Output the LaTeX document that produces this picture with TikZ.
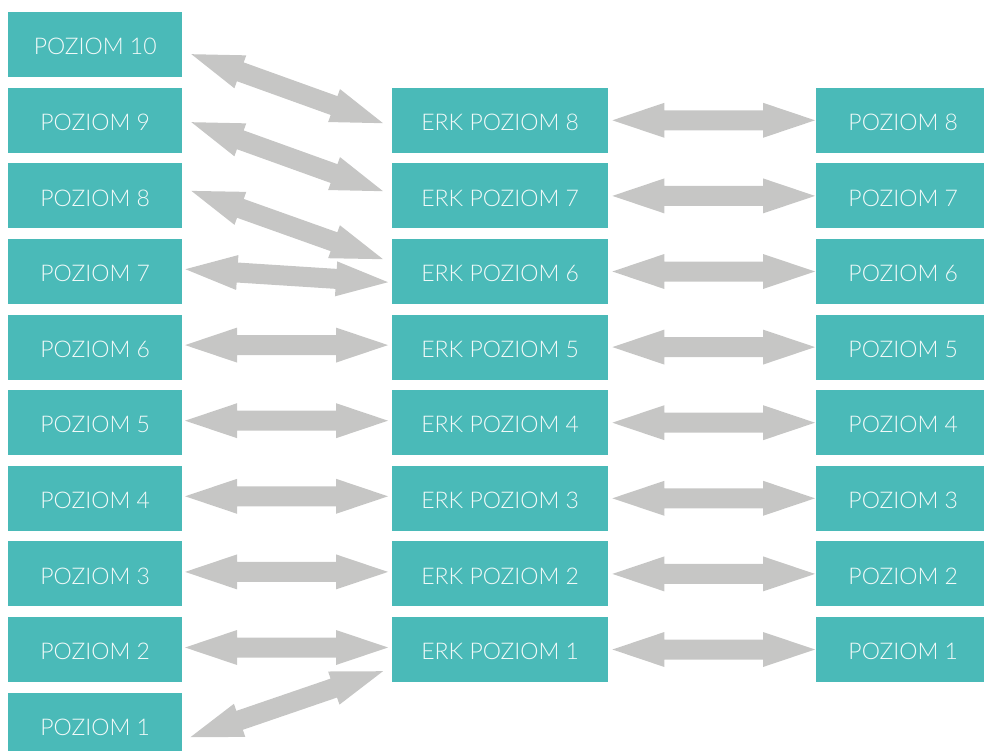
\documentclass[tikz,border=0pt]{standalone}
\usepackage{fontspec}
\setmainfont{Lato Light}
\usetikzlibrary{calc}

\definecolor{boxteal}{HTML}{4ABAB8}
\definecolor{labelwhite}{HTML}{F2FAF9}
\definecolor{arrowgrey}{HTML}{C6C6C5}

\tikzset{
  tile/.style={fill=boxteal, text=labelwhite, minimum height=65pt, inner sep=0pt,
    text height=20.5pt, text depth=0pt, anchor=north west,
    font=\fontsize{23}{26}\selectfont},
  sidebox/.style={tile, minimum width=174pt},
  erkbox/.style={tile, minimum width=216pt},
}

% thick grey double-headed block arrow from tip #1 to tip #2
\newcommand\biarrow[2]{%
  \fill[arrowgrey] let \p1=#1, \p2=#2,
    \n1={atan2(\y2-\y1,\x2-\x1)}, \n2={veclen(\x2-\x1,\y2-\y1)} in
    [shift={(\p1)}, rotate=\n1]
    (0pt,0pt) -- (52pt,17.5pt) -- (52pt,10pt) -- ({\n2-52pt},10pt)
    -- ({\n2-52pt},17.5pt) -- (\n2,0pt) -- ({\n2-52pt},-17.5pt)
    -- ({\n2-52pt},-10pt) -- (52pt,-10pt) -- (52pt,-17.5pt) -- cycle;%
}

\begin{document}
\begin{tikzpicture}[x=1pt,y=1pt]
\path[use as bounding box] (0,0) rectangle (984,-751);
\clip (0,0) rectangle (984,-751);

% left column: POZIOM 1..10
\foreach \i [evaluate=\i as \yy using 12+75.6*(10-\i)] in {1,...,10} {
  \node[sidebox] (l\i) at (8,-\yy) {POZIOM \i};
}

% middle (ERK) and right columns: levels 1..8
\foreach \i [evaluate=\i as \yy using 12+75.6*(9-\i)] in {1,...,8} {
  \node[erkbox] (m\i) at (392,-\yy) {ERK POZIOM \i};
  \node[sidebox] (r\i) at (816,-\yy) {POZIOM \i};
}

% ERK level <-> right level
\foreach \i in {1,...,8} {
  \biarrow{($(m\i.east)+(4,0)$)}{($(r\i.west)+(-1,0)$)}
}

% left levels 2..6 <-> ERK levels 1..5
\foreach \i [evaluate=\i as \k using int(\i+1)] in {1,...,5} {
  \biarrow{($(l\k.east)+(2.7,2)$)}{($(m\i.west)+(-4,2)$)}
}

% slanted links
\biarrow{($(l10.east)+(9,-9.5)$)}{($(m8.west)+(-9,-2.9)$)}
\biarrow{($(l9.east)+(9,-1.9)$)}{($(m7.west)+(-9,4.7)$)}
\biarrow{($(l8.east)+(9,5)$)}{($(m6.west)+(-9,12.3)$)}
\biarrow{($(l7.east)+(3,2.3)$)}{($(m6.west)+(-4,-10.7)$)}
\biarrow{($(l1.east)+(8,-12.1)$)}{($(m1.west)+(-9,-21.7)$)}
\end{tikzpicture}
\end{document}
